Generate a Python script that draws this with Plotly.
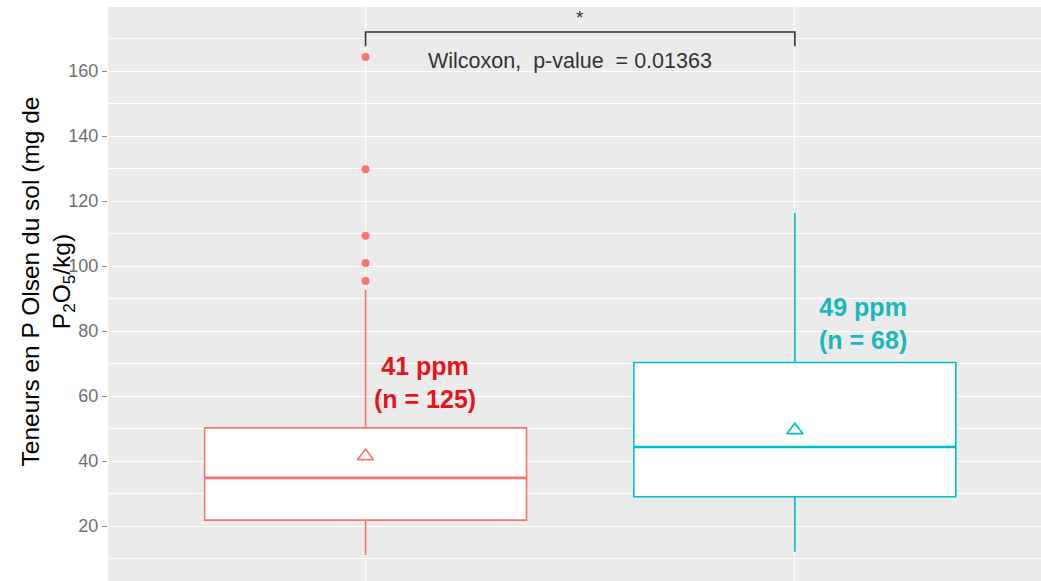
import plotly.graph_objects as go

# ---- data ----
groups = ["Groupe 1", "Groupe 2"]
positions = [1, 2]
colors = ["#F8766D", "#00BFC4"]
text_colors = ["#E8141B", "#1AB8BC"]
q1 = [21.8, 29.0]
median = [34.8, 44.3]
q3 = [50.2, 70.3]
lower_whisker = [11.0, 12.1]
upper_whisker = [92.6, 116.3]
means = [41.5, 49.5]
outliers_g1 = [164.3, 129.8, 109.3, 100.9, 95.4]
labels = ["41 ppm<br>(n = 125)", "49 ppm<br>(n = 68)"]
label_x = [1.1375, 2.159]
label_y = [64.3, 82.2]
bracket_low = 167.6
bracket_high = 172.0
star_y = 176.6
pvalue_text = "Wilcoxon,  p-value  = 0.01363"
pvalue_x = 1.477
pvalue_y = 163.0
y_ticks = [20, 40, 60, 80, 100, 120, 140, 160]

BOX_W = 0.75

fig = go.Figure()

for i in range(2):
    fig.add_trace(go.Box(
        x=[positions[i]], q1=[q1[i]], median=[median[i]], q3=[q3[i]],
        lowerfence=[lower_whisker[i]], upperfence=[upper_whisker[i]],
        width=BOX_W, fillcolor="white", line=dict(color=colors[i], width=1.6),
        whiskerwidth=0, boxpoints=False, showlegend=False, hoverinfo="skip"))
    # thicker median line (ggplot style)
    fig.add_trace(go.Scatter(
        x=[positions[i] - BOX_W / 2, positions[i] + BOX_W / 2],
        y=[median[i], median[i]], mode="lines",
        line=dict(color=colors[i], width=2.6), showlegend=False, hoverinfo="skip"))
    # mean triangle
    fig.add_trace(go.Scatter(
        x=[positions[i]], y=[means[i]], mode="markers",
        marker=dict(symbol="triangle-up-open", size=14, color=colors[i],
                    line=dict(width=1.6, color=colors[i])),
        showlegend=False, hoverinfo="skip"))

# outliers group 1
fig.add_trace(go.Scatter(
    x=[positions[0]] * len(outliers_g1), y=outliers_g1, mode="markers",
    marker=dict(symbol="circle", size=8, color=colors[0]),
    showlegend=False, hoverinfo="skip"))

# bracket
fig.add_trace(go.Scatter(
    x=[positions[0], positions[0], positions[1], positions[1]],
    y=[bracket_low, bracket_high, bracket_high, bracket_low],
    mode="lines", line=dict(color="#333333", width=1.6),
    showlegend=False, hoverinfo="skip"))

annotations = [
    dict(x=(positions[0] + positions[1]) / 2, y=star_y, text="*", showarrow=False,
         font=dict(family="Arial, Liberation Sans", size=19, color="#333333"),
         xanchor="center", yanchor="middle"),
    dict(x=pvalue_x, y=pvalue_y, text=pvalue_text, showarrow=False,
         font=dict(family="Arial, Liberation Sans", size=21.5, color="#333333"),
         xanchor="center", yanchor="middle"),
]
for i in range(2):
    annotations.append(dict(
        x=label_x[i], y=label_y[i], text="<b>" + labels[i] + "</b>", showarrow=False,
        font=dict(family="Arial, Liberation Sans", size=25, color=text_colors[i]),
        xanchor="center", yanchor="middle"))

# y-axis title as annotation (two lines, overlapping like the reference)
annotations.append(dict(
    xref="paper", yref="paper", x=(48.5 - 108) / 933, y=(581 - 282) / 574,
    text="Teneurs en P Olsen du sol (mg de<br>P<sub>2</sub>O<sub>5</sub>/kg)",
    textangle=-90, showarrow=False, xanchor="center", yanchor="middle",
    font=dict(family="Arial, Liberation Sans", size=24.5, color="black")))

fig.update_layout(
    width=1041, height=581, autosize=False,
    margin=dict(l=108, r=0, t=7, b=0, pad=0),
    paper_bgcolor="white", plot_bgcolor="#EBEBEB",
    annotations=annotations,
    xaxis=dict(range=[0.4, 2.5734], tickvals=positions, showticklabels=False,
               showgrid=True, gridcolor="white", gridwidth=1.4, zeroline=False,
               ticks="", showline=False),
    yaxis=dict(range=[3.08, 179.7], tickvals=y_ticks, ticks="outside", ticklen=5,
               tickcolor="#8a8a8a", tickwidth=1.2,
               tickfont=dict(family="Arial, Liberation Sans", size=18, color="#707070"),
               showgrid=True, gridcolor="white", gridwidth=1.4, zeroline=False,
               showline=False,
               minor=dict(tick0=10, dtick=20, showgrid=True, gridcolor="white",
                          gridwidth=0.7, ticks="")),
)

fig.write_html("out.html")
